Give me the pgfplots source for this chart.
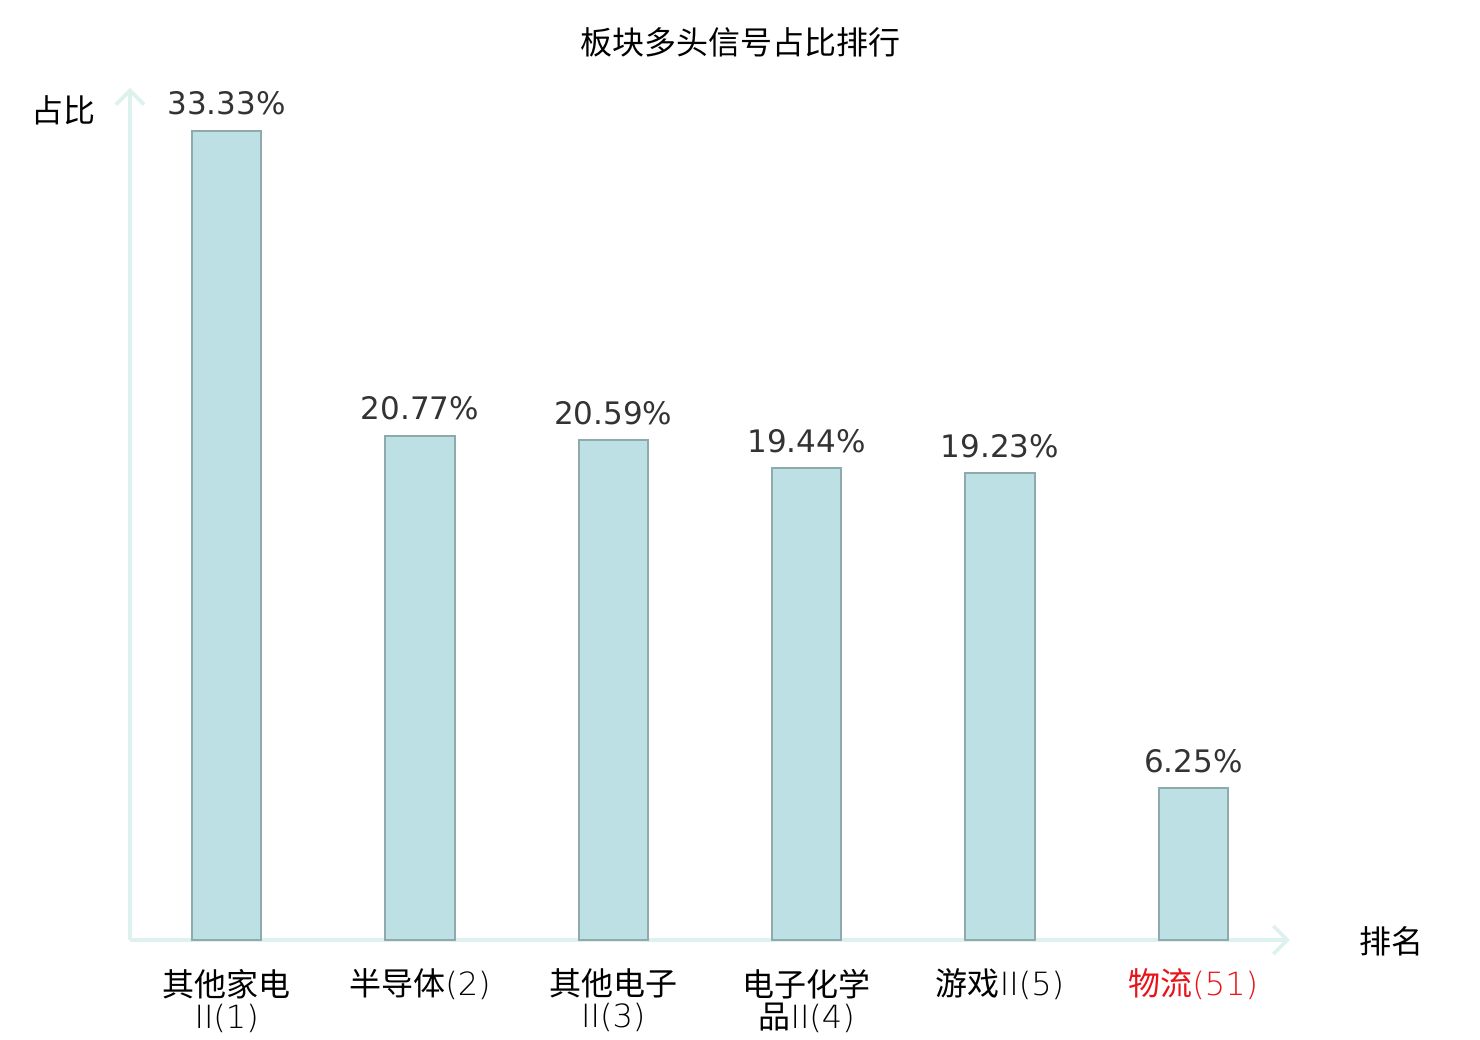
\documentclass[border=0pt]{standalone}
\usepackage{pgfplots}
\pgfplotsset{compat=1.18}
\usepackage{fontspec}
\setmainfont{DejaVu Sans}
\newfontfamily\cjk{Noto Sans CJK SC}
\newfontfamily\lightfont{DejaVu Sans ExtraLight}
\usetikzlibrary{arrows.meta}
\definecolor{barfill}{HTML}{BCE0E3}
\definecolor{baredge}{HTML}{8FAAAD}
\definecolor{axiscol}{HTML}{DDF1EE}
\definecolor{labcol}{HTML}{333333}
\definecolor{redlab}{HTML}{E8141B}
\begin{document}
\begin{tikzpicture}
\path[use as bounding box] (0,0) rectangle (740pt,520pt);
\begin{axis}[
  at={(65pt,50pt)}, anchor=south west,
  scale only axis, width=580pt, height=426pt,
  xmin=-0.5, xmax=5.5, ymin=0, ymax=35.1,
  axis lines=left,
  axis line style={draw=axiscol, line width=2pt, -{Straight Barb[length=7pt,width=14pt,line width=1.8pt]}},
  ytick=\empty,
  xtick={0,1,2,3,4,5},
  major tick length=0pt,
  /pgf/number format/assume math mode=true,
  xticklabels={
    {\cjk 其他家电}\\{\lightfont II(1)},
    {\cjk 半导体}{\lightfont (2)},
    {\cjk 其他电子}\\{\lightfont II(3)},
    {\cjk 电子化学}\\{\cjk 品}{\lightfont II(4)},
    {\cjk 游戏}{\lightfont II(5)},
    {\color{redlab}{\cjk 物流}{\lightfont (51)}}
  },
  xticklabel style={font=\fontsize{16pt}{16pt}\selectfont, align=center, text=black, yshift=-11pt},
  clip=false,
]
\addplot[ybar, bar width=0.357, fill=barfill, draw=baredge, line width=1pt,
  nodes near coords={\pgfmathprintnumber[fixed,fixed zerofill,precision=2,assume math mode=true]{\pgfplotspointmeta}\%},
  every node near coord/.append style={font=\fontsize{15.5pt}{18pt}\selectfont, text=labcol, yshift=4pt}]
  coordinates {(0,33.33) (1,20.77) (2,20.59) (3,19.44) (4,19.23) (5,6.25)};
\end{axis}
\node[font=\cjk\fontsize{16pt}{18pt}\selectfont] at (370pt,499pt) {板块多头信号占比排行};
\node[font=\cjk\fontsize{16pt}{18pt}\selectfont] at (31.75pt,465pt) {占比};
\node[font=\cjk\fontsize{16pt}{18pt}\selectfont] at (695.5pt,49.5pt) {排名};
\end{tikzpicture}
\end{document}
